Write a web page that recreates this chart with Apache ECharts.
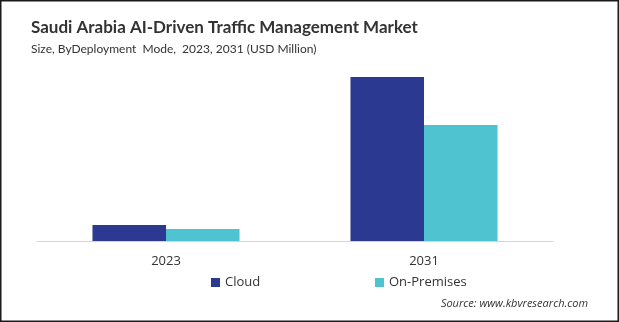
<!DOCTYPE html>
<html>
<head>
<meta charset="utf-8">
<script src="https://cdn.jsdelivr.net/npm/echarts@6/dist/echarts.min.js"></script>
<style>
  html, body { margin: 0; padding: 0; background: #fff; }
  #chart { width: 619px; height: 322px; }
</style>
</head>
<body>
<div id="chart"></div>
<script>
// Market size by deployment mode (USD Million)
const years = ['2023', '2031'];
const cloud = [16, 164];
const onPremises = [12, 116];
const seriesNames = ['Cloud', 'On-Premises'];
const colors = ['#2b3990', '#4fc3cf'];

const chart = echarts.init(document.getElementById('chart'), null, { renderer: 'canvas' });

chart.setOption({
  backgroundColor: '#ffffff',
  animation: false,
  title: [
    {
      text: 'Saudi Arabia AI-Driven Traffic Management Market',
      left: 26, top: 14,
      textStyle: { fontFamily: 'Lato', fontWeight: 'bold', fontSize: 17, color: '#333333' }
    },
    {
      text: 'Size, ByDeployment  Mode,  2023, 2031 (USD Million)',
      left: 26, top: 38,
      textStyle: { fontFamily: 'Lato', fontWeight: 'normal', fontSize: 12, color: '#333333' }
    },
    {
      text: 'Source: www.kbvresearch.com',
      right: 26, top: 293,
      textStyle: { fontFamily: 'Open Sans', fontStyle: 'italic', fontWeight: 'normal', fontSize: 11, color: '#333333' }
    }
  ],
  legend: [
    {
      data: [seriesNames[0]], left: 206, top: 271,
      icon: 'rect', itemWidth: 9, itemHeight: 9, itemGap: 4,
      textStyle: { fontFamily: 'Open Sans', fontSize: 13, color: '#333333' }
    },
    {
      data: [seriesNames[1]], left: 370, top: 271,
      icon: 'rect', itemWidth: 9, itemHeight: 9, itemGap: 4,
      textStyle: { fontFamily: 'Open Sans', fontSize: 13, color: '#333333' }
    }
  ],
  grid: { left: 37, right: 66, top: 41, bottom: 81, containLabel: false },
  xAxis: {
    type: 'category',
    data: years,
    axisLine: { lineStyle: { color: '#d4d4d4', width: 1 } },
    axisTick: { show: false },
    axisLabel: { margin: 14, fontFamily: 'Open Sans', fontSize: 13, color: '#333333' }
  },
  yAxis: {
    type: 'value', min: 0, max: 200,
    show: false, splitLine: { show: false }
  },
  series: [
    { name: seriesNames[0], type: 'bar', data: cloud, itemStyle: { color: colors[0] },
      barGap: '0%', barCategoryGap: '43%' },
    { name: seriesNames[1], type: 'bar', data: onPremises, itemStyle: { color: colors[1] },
      barGap: '0%', barCategoryGap: '43%' }
  ],
  graphic: [
    {
      type: 'rect', silent: true,
      shape: { x: 0.5, y: 0.5, width: 618, height: 321 },
      style: { fill: 'none', stroke: '#1a1a1a', lineWidth: 2 }
    }
  ]
});
</script>
</body>
</html>
